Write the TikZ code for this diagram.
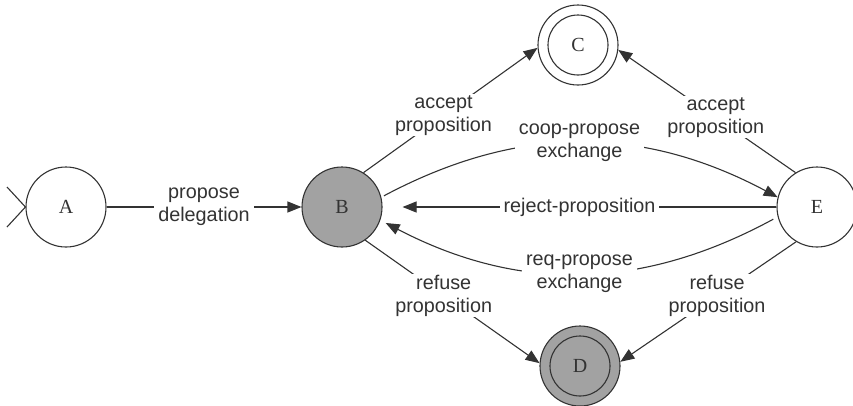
\documentclass[tikz,border=0pt]{standalone}
\usepackage{fontspec}
\setmainfont{Liberation Serif}
\setsansfont{Liberation Sans}
\usetikzlibrary{arrows.meta}
\definecolor{ink}{HTML}{333333}
\definecolor{shade}{HTML}{A2A2A2}
\begin{document}
\begin{tikzpicture}[x=1pt,y=-1pt,
  state/.style={circle,draw=ink,line width=1.1pt,minimum size=80pt,inner sep=0pt,
    font=\fontsize{20}{20}\selectfont,text=ink},
  lbl/.style={fill=white,font=\sffamily\fontsize{19.8}{23}\selectfont,text=ink,
    align=center,inner xsep=4pt,inner ysep=1pt},
  plain/.style={draw=ink,line width=1.1pt},
  edge/.style={plain,-{Triangle[length=14pt,width=11pt]}}]
\useasboundingbox (0,0) rectangle (853,405);
% states
\node[state] (A) at (66,207) {A};
\node[state,fill=shade] (B) at (342,207) {B};
\node[state] (C) at (578,45) {C};
\node[state,fill=shade] (D) at (580,366) {D};
\node[state] (E) at (817,207) {E};
\draw[plain] (C.center) circle (30);
\draw[plain] (D.center) circle (30);
% start marker
\coordinate (s1) at (7,187);
\coordinate (s2) at (7,227);
\draw[plain] (s1) -- (A.west) -- (s2);
% transitions
\draw[edge] (A.east) -- node[lbl] {propose\\delegation} (B.west);
\draw[edge] (B.58) -- node[lbl,pos=0.46] {accept\\proposition} (C.184);
\draw[edge] (E.122) -- node[lbl,pos=0.45] {accept\\proposition} (C.-7);
\draw[edge] (B.-55) -- node[lbl,pos=0.45] {refuse\\proposition} (D.176);
\draw[edge] (E.-121) -- node[lbl,pos=0.45] {refuse\\proposition} (D.6);
\draw[edge,shorten <=3pt] (B.14) to[bend left=28] node[lbl,pos=0.5] {coop-propose\\exchange} (E.166);
\draw[edge,shorten >=20pt] (E.west) -- node[lbl] {reject-proposition} (B.east);
\draw[edge,shorten <=5pt,shorten >=6pt] (E.194) to[bend left=28] node[lbl,pos=0.5] {req-propose\\exchange} (B.-19);
\end{tikzpicture}
\end{document}
